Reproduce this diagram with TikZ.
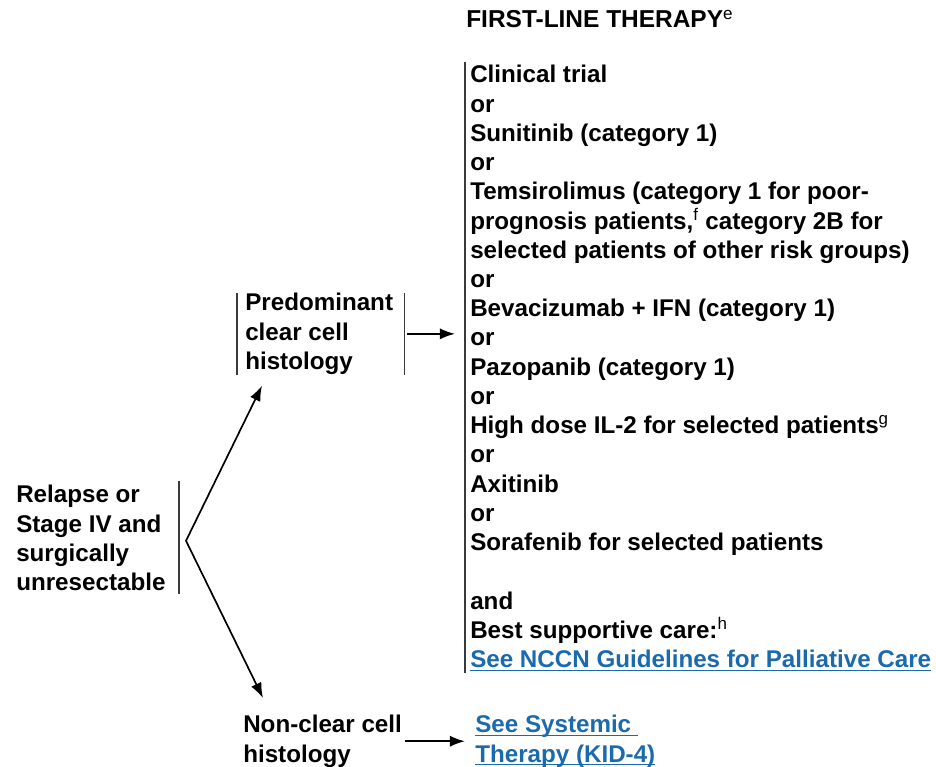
\documentclass[tikz,border=0pt]{standalone}
\usepackage{fontspec}
\setmainfont{Liberation Sans}
\usetikzlibrary{arrows.meta,positioning}
\definecolor{KIDBlue}{HTML}{1B6AAE}
\definecolor{KIDBar}{HTML}{3A3A3A}
\newcommand{\seelink}[1]{\setbox0\hbox{#1}\rlap{\rule[-2.2pt]{\wd0}{0.8pt}}\box0}

\begin{document}
\begin{tikzpicture}[
          >={Latex[length=3.8mm,width=2.8mm]},
          txt/.style={font=\fontsize{17.2}{20.8}\selectfont\bfseries,align=left,inner sep=0pt},
          head/.style={font=\fontsize{17.4}{20.8}\selectfont\bfseries,inner sep=0pt},
          bar/.style={line width=1.1pt,draw=KIDBar},
          arr/.style={->,line width=1.2pt},
          link/.style={text=KIDBlue}
        ]
        \useasboundingbox (0,0) rectangle (23.4,-19.175);
        \node[head,anchor=base west] (title) at (11.65,-0.70) {FIRST-LINE THERAPY\textsuperscript{\mdseries e}};

        \node[txt,anchor=north west] (firstline) at (11.75,-1.625) {Clinical trial\\ or\\ Sunitinib (category 1)\\ or\\
          Temsirolimus (category 1 for poor-\\ prognosis patients,\textsuperscript{\mdseries f} category 2B for\\
          selected patients of other risk groups)\\ or\\ Bevacizumab + IFN (category 1)\\ or\\
          Pazopanib (category 1)\\ or\\ High dose IL-2 for selected patients\textsuperscript{\mdseries g}\\ or\\
          Axitinib\\ or\\ Sorafenib for selected patients\\[20.8pt] and\\ Best supportive care:\textsuperscript{\mdseries h}\\
          {\color{KIDBlue}\seelink{See NCCN Guidelines for Palliative Care}}};
        \draw[bar] ([xshift=-0.125cm,yshift=0.075cm]firstline.north west) -- ([xshift=-0.125cm,yshift=-0.05cm]firstline.south west);

        \node[txt,anchor=north west] (relapse) at (0.40,-12.125) {Relapse or\\ Stage IV and\\ surgically\\ unresectable};
        \draw[bar] ([xshift=0.325cm,yshift=0.1cm]relapse.north east) -- ([xshift=0.325cm,yshift=-0.075cm]relapse.south east);

        \node[txt,anchor=north west,inner xsep=0.2cm] (pred) at (5.925,-7.325) {Predominant\\ clear cell\\ histology};
        \draw[bar] (pred.north west) -- (pred.south west);
        \draw[bar] ([xshift=0.075cm]pred.north east) -- ([xshift=0.075cm]pred.south east);

        \node[txt,anchor=north west] (noncc) at (6.075,-17.875) {Non-clear cell\\ histology};
        \node[txt,link,anchor=north west] (seefour) at (11.875,-17.875) {\seelink{See Systemic\ }\\ \seelink{Therapy (KID-4)}};

        \coordinate (fork) at (4.65,-13.52);
        \draw[<->,line width=1.2pt] ([shift={(0.625,-0.275)}]pred.south west) -- (fork) -- ([shift={(0.5,0.425)}]noncc.north west);
        \draw[arr] ([xshift=0.15cm]pred.east) -- ([xshift=-0.375cm]pred.east -| firstline.west);
        \draw[arr] ([xshift=0.075cm]noncc.east) -- ([xshift=-0.25cm]noncc.east -| seefour.west);

      \end{tikzpicture}
\end{document}
